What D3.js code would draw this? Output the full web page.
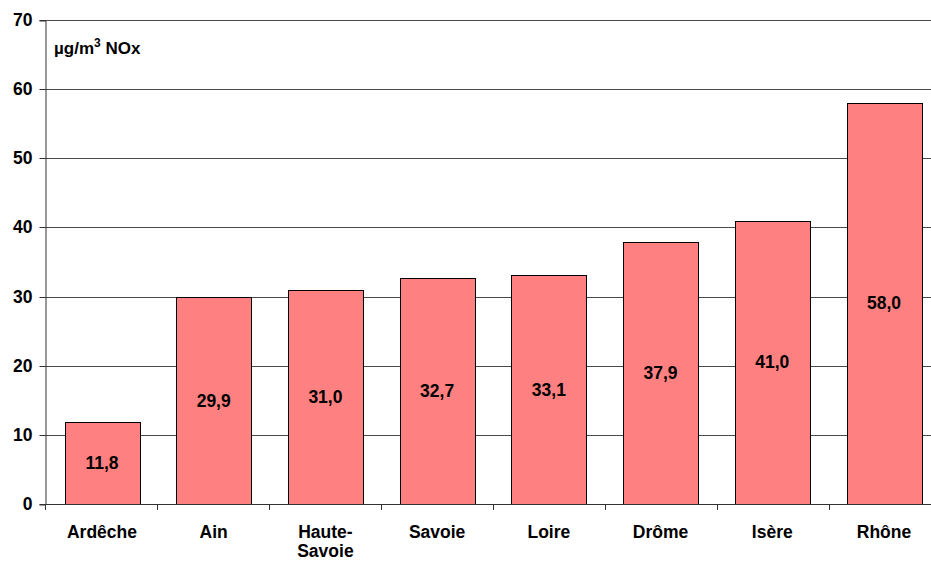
<!DOCTYPE html>
<html><head><meta charset="utf-8">
<script src="https://cdn.jsdelivr.net/npm/d3@7"></script>
<style>
body{margin:0;background:#fff;}
svg{display:block;font-family:"Liberation Sans",Arial,sans-serif;font-weight:bold;}
</style></head><body>
<svg id="c" width="931" height="561"></svg>
<script>
const categories = ["Ardêche","Ain","Haute-\nSavoie","Savoie","Loire","Drôme","Isère","Rhône"];
const values = [11.8,29.9,31.0,32.7,33.1,37.9,41.0,58.0];
const yTicks = [0,10,20,30,40,50,60,70];

(function(){
const svg = d3.select("#c");
const mLeft = 45, mTop = 20, mBottom = 504, step = 112;
const x = d3.scaleBand().domain(categories).range([mLeft, mLeft + step*categories.length]).paddingInner(0.33).paddingOuter(0.175);
const y = d3.scaleLinear().domain([0,70]).range([mBottom, mTop]);
const fs = 17.5;

// gridlines
svg.append("g").selectAll("line").data(yTicks.filter(d=>d>0)).join("line")
  .attr("x1", mLeft).attr("x2", 931).attr("y1", d=>Math.round(y(d))+0.5).attr("y2", d=>Math.round(y(d))+0.5)
  .attr("stroke", "#4a4a4a").attr("stroke-width", 1);

// y axis
const ya = svg.append("g").attr("transform", `translate(${mLeft+0.5},0.5)`)
  .call(d3.axisLeft(y).tickValues(yTicks).tickSize(6).tickPadding(7).tickFormat(d3.format("d")));
ya.select(".domain").attr("stroke","#333");
ya.selectAll(".tick line").attr("stroke","#333");
ya.selectAll("text").attr("font-size",fs).attr("font-weight","bold").attr("fill","#000").attr("font-family","Liberation Sans, Arial, sans-serif");
ya.selectAll(".tick").attr("transform", d=>`translate(0,${Math.round(y(d))})`);

// bars
svg.append("g").selectAll("rect").data(values).join("rect")
  .attr("x", (d,i)=>Math.round(x(categories[i]))+0.5)
  .attr("y", d=>Math.round(y(d))+0.5)
  .attr("width", Math.round(x.bandwidth()))
  .attr("height", d=>mBottom - Math.round(y(d)))
  .attr("fill", "#FF8080").attr("stroke", "#000").attr("stroke-width", 1);

// x axis line and ticks
svg.append("line").attr("x1", mLeft).attr("x2", 931).attr("y1", mBottom+0.5).attr("y2", mBottom+0.5).attr("stroke","#333");
svg.append("g").selectAll("line").data(d3.range(categories.length+1)).join("line")
  .attr("x1", i=>mLeft + i*step + 0.5).attr("x2", i=>mLeft + i*step + 0.5)
  .attr("y1", mBottom).attr("y2", mBottom+6).attr("stroke","#333");

// value labels
svg.append("g").selectAll("text").data(values).join("text")
  .attr("x", (d,i)=>x(categories[i]) + x.bandwidth()/2)
  .attr("y", d=>(y(d)+mBottom)/2 + 6)
  .attr("text-anchor","middle").attr("font-size",fs).attr("fill","#000")
  .text(d=>d3.format(".1f")(d).replace(".",","));

// category labels
svg.append("g").selectAll("text").data(categories).join("text")
  .attr("x", d=>x(d) + x.bandwidth()/2)
  .attr("y", 538)
  .attr("text-anchor","middle").attr("font-size",fs).attr("fill","#000")
  .each(function(d){
    const t = d3.select(this);
    d.split("\n").forEach((s,j)=>t.append("tspan").attr("x", x(d)+x.bandwidth()/2).attr("dy", j?19:0).text(s));
  });

// unit label
const u = svg.append("text").attr("x",54).attr("y",54).attr("font-size",17).attr("fill","#000");
u.append("tspan").text("µg/m");
u.append("tspan").attr("font-size",12).attr("dy",-7).text("3");
u.append("tspan").attr("dy",7).text(" NOx");
})();
</script></body></html>
